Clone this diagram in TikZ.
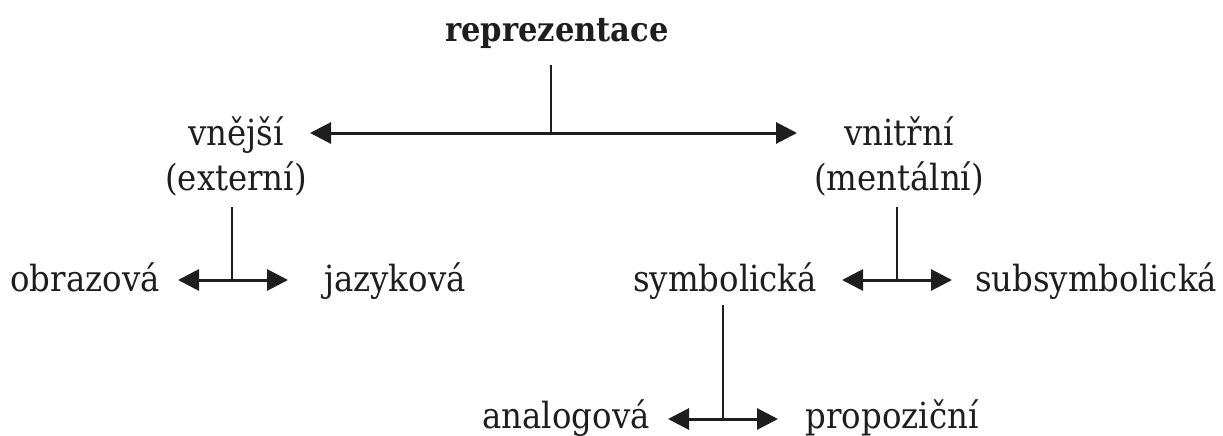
\documentclass[tikz,border=0pt]{standalone}
\usepackage{fontspec}
\setmainfont{DejaVu Serif Condensed}
\usetikzlibrary{arrows.meta}
\definecolor{ink}{HTML}{1E1E1E}
\tikzset{
  lbl/.style={inner sep=0pt, anchor=base, text=ink, font=\fontsize{36}{45}\selectfont, align=center},
  conn/.style={draw=ink, line width=2.3pt},
  biarrow/.style={draw=ink, line width=3pt, {Triangle[length=21pt,width=21pt]}-{Triangle[length=21pt,width=21pt]}}
}
\begin{document}
\begin{tikzpicture}[x=1pt,y=-1pt]
\useasboundingbox (0,0) rectangle (1223,436);
% nodes
\node[lbl, font=\fontsize{34}{40}\bfseries\selectfont] (rep) at (557,42) {reprezentace};
\node[lbl] (ext) at (236,190) {vnější\\(externí)};
\node[lbl] (int) at (899,190) {vnitřní\\(mentální)};
\node[lbl] (obr) at (85,291) {obrazová};
\node[lbl] (jaz) at (395,291) {jazyková};
\node[lbl] (sym) at (725,291) {symbolická};
\node[lbl] (sub) at (1096,291) {subsymbolická};
\node[lbl] (ana) at (566,428) {analogová};
\node[lbl] (pro) at (892,428) {propoziční};
% junction coordinates and arrow ends
\coordinate (j1) at (551,133);
\coordinate (a1l) at (310,133);
\coordinate (a1r) at (797,133);
\coordinate (j2) at (232,280);
\coordinate (a2l) at (178,280);
\coordinate (a2r) at (288,280);
\coordinate (j3) at (897,280);
\coordinate (a3l) at (842,280);
\coordinate (a3r) at (952,280);
\coordinate (j4) at (723,419);
\coordinate (a4l) at (668,419);
\coordinate (a4r) at (778,419);
% connectors
\draw[conn] (j1 |- 0,65) -- (j1);
\draw[biarrow] (a1l) -- (a1r);
\draw[conn] (j2 |- 0,207) -- (j2);
\draw[biarrow] (a2l) -- (a2r);
\draw[conn] (j3 |- 0,207) -- (j3);
\draw[biarrow] (a3l) -- (a3r);
\draw[conn] (j4 |- 0,305) -- (j4);
\draw[biarrow] (a4l) -- (a4r);
\end{tikzpicture}
\end{document}
